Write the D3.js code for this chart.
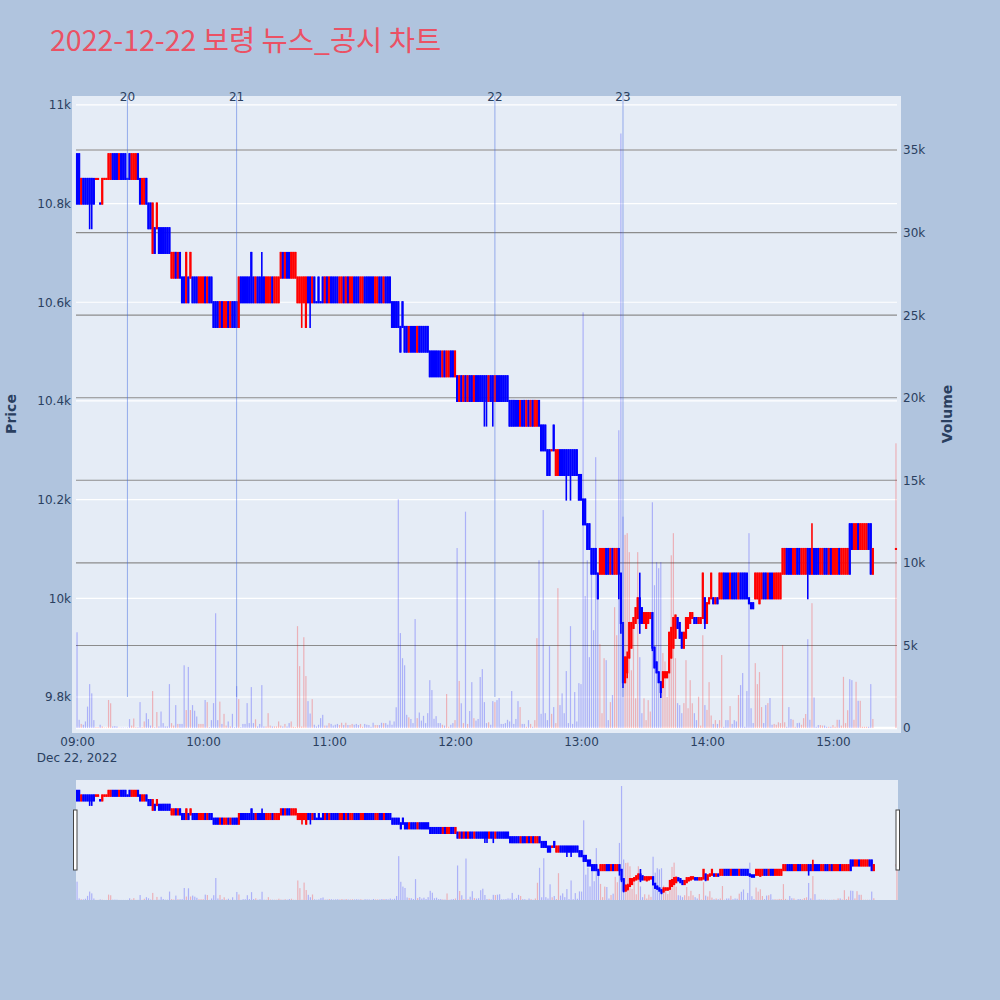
<!DOCTYPE html>
<html><head><meta charset="utf-8">
<script src="https://cdn.jsdelivr.net/npm/d3@7"></script>
<style>body{margin:0;background:#B0C4DE;} svg{display:block}</style>
</head><body><svg id="c" width="1000" height="1000"></svg>
<script>
const times = [
"09:00","09:01","09:02","09:03","09:04","09:05","09:06","09:07","09:08","09:09",
"09:10","09:11","09:12","09:13","09:14","09:15","09:16","09:17","09:18","09:19",
"09:20","09:21","09:22","09:23","09:24","09:25","09:26","09:27","09:28","09:29",
"09:30","09:31","09:32","09:33","09:34","09:35","09:36","09:37","09:38","09:39",
"09:40","09:41","09:42","09:43","09:44","09:45","09:46","09:47","09:48","09:49",
"09:50","09:51","09:52","09:53","09:54","09:55","09:56","09:57","09:58","09:59",
"10:00","10:01","10:02","10:03","10:04","10:05","10:06","10:07","10:08","10:09",
"10:10","10:11","10:12","10:13","10:14","10:15","10:16","10:17","10:18","10:19",
"10:20","10:21","10:22","10:23","10:24","10:25","10:26","10:27","10:28","10:29",
"10:30","10:31","10:32","10:33","10:34","10:35","10:36","10:37","10:38","10:39",
"10:40","10:41","10:42","10:43","10:44","10:45","10:46","10:47","10:48","10:49",
"10:50","10:51","10:52","10:53","10:54","10:55","10:56","10:57","10:58","10:59",
"11:00","11:01","11:02","11:03","11:04","11:05","11:06","11:07","11:08","11:09",
"11:10","11:11","11:12","11:13","11:14","11:15","11:16","11:17","11:18","11:19",
"11:20","11:21","11:22","11:23","11:24","11:25","11:26","11:27","11:28","11:29",
"11:30","11:31","11:32","11:33","11:34","11:35","11:36","11:37","11:38","11:39",
"11:40","11:41","11:42","11:43","11:44","11:45","11:46","11:47","11:48","11:49",
"11:50","11:51","11:52","11:53","11:54","11:55","11:56","11:57","11:58","11:59",
"12:00","12:01","12:02","12:03","12:04","12:05","12:06","12:07","12:08","12:09",
"12:10","12:11","12:12","12:13","12:14","12:15","12:16","12:17","12:18","12:19",
"12:20","12:21","12:22","12:23","12:24","12:25","12:26","12:27","12:28","12:29",
"12:30","12:31","12:32","12:33","12:34","12:35","12:36","12:37","12:38","12:39",
"12:40","12:41","12:42","12:43","12:44","12:45","12:46","12:47","12:48","12:49",
"12:50","12:51","12:52","12:53","12:54","12:55","12:56","12:57","12:58","12:59",
"13:00","13:01","13:02","13:03","13:04","13:05","13:06","13:07","13:08","13:09",
"13:10","13:11","13:12","13:13","13:14","13:15","13:16","13:17","13:18","13:19",
"13:20","13:21","13:22","13:23","13:24","13:25","13:26","13:27","13:28","13:29",
"13:30","13:31","13:32","13:33","13:34","13:35","13:36","13:37","13:38","13:39",
"13:40","13:41","13:42","13:43","13:44","13:45","13:46","13:47","13:48","13:49",
"13:50","13:51","13:52","13:53","13:54","13:55","13:56","13:57","13:58","13:59",
"14:00","14:01","14:02","14:03","14:04","14:05","14:06","14:07","14:08","14:09",
"14:10","14:11","14:12","14:13","14:14","14:15","14:16","14:17","14:18","14:19",
"14:20","14:21","14:22","14:23","14:24","14:25","14:26","14:27","14:28","14:29",
"14:30","14:31","14:32","14:33","14:34","14:35","14:36","14:37","14:38","14:39",
"14:40","14:41","14:42","14:43","14:44","14:45","14:46","14:47","14:48","14:49",
"14:50","14:51","14:52","14:53","14:54","14:55","14:56","14:57","14:58","14:59",
"15:00","15:01","15:02","15:03","15:04","15:05","15:06","15:07","15:08","15:09",
"15:10","15:11","15:12","15:13","15:14","15:15","15:16","15:17","15:18","15:19",
"15:30"];

const open = [
10900,10900,10800,10850,10850,10850,10850,10850,10850,10850,
10850,10800,10800,10850,10850,10850,10850,10900,10900,10900,
10850,10900,10900,10900,10850,10900,10850,10850,10850,10900,
10850,10800,10800,10850,10800,10800,10700,10750,10750,10750,
10750,10750,10750,10750,10750,10650,10650,10700,10650,10700,
10650,10650,10600,10650,10650,10650,10650,10650,10600,10600,
10600,10650,10600,10650,10650,10600,10600,10600,10550,10600,
10550,10550,10600,10550,10600,10600,10600,10550,10650,10650,
10650,10650,10650,10700,10650,10600,10650,10650,10650,10650,
10600,10600,10600,10650,10600,10600,10600,10650,10700,10650,
10700,10700,10650,10650,10650,10600,10600,10600,10600,10550,
10650,10650,10600,10650,10600,10650,10600,10650,10600,10650,
10600,10650,10650,10650,10650,10600,10600,10650,10600,10650,
10600,10600,10650,10650,10650,10600,10600,10650,10650,10650,
10650,10650,10600,10600,10650,10650,10600,10650,10650,10650,
10600,10600,10600,10600,10550,10600,10550,10550,10500,10550,
10550,10550,10500,10550,10550,10550,10550,10550,10500,10500,
10500,10500,10500,10500,10450,10500,10450,10450,10500,10500,
10450,10450,10400,10450,10400,10450,10400,10450,10450,10400,
10450,10450,10450,10450,10450,10450,10400,10450,10450,10400,
10450,10450,10450,10450,10450,10450,10400,10400,10400,10400,
10400,10350,10400,10400,10350,10400,10350,10400,10350,10350,
10400,10350,10350,10350,10300,10300,10300,10350,10250,10250,
10300,10300,10300,10300,10300,10300,10300,10300,10300,10250,
10250,10200,10200,10150,10150,10100,10100,10100,10050,10050,
10050,10050,10100,10100,10050,10100,10050,10050,10100,10050,
9950,9830,9850,9880,9900,9940,9950,9960,10000,9980,
9950,9940,9950,9960,9970,9900,9870,9850,9830,9820,
9840,9840,9850,9880,9900,9920,9960,9950,9930,9900,
9920,9940,9950,9960,9960,9960,9950,9950,9960,10000,
9950,9990,10000,10000,9990,10000,10000,10000,10050,10050,
10050,10000,10050,10050,10050,10000,10050,10050,10050,10050,
10000,9990,9990,10000,10000,9990,10000,10050,10050,10000,
10050,10050,10000,10000,10000,10000,10050,10050,10100,10100,
10100,10050,10050,10100,10100,10050,10050,10050,10100,10100,
10050,10100,10100,10100,10050,10050,10100,10100,10050,10100,
10050,10050,10050,10100,10050,10050,10050,10050,10150,10150,
10100,10100,10150,10100,10100,10100,10100,10150,10150,10050,
10100];

const high = [
10900,10900,10850,10850,10850,10850,10850,10850,10850,10850,
10850,10800,10850,10850,10850,10900,10900,10900,10900,10900,
10900,10900,10900,10900,10850,10900,10900,10900,10900,10900,
10850,10850,10850,10850,10800,10800,10800,10750,10800,10750,
10750,10750,10750,10750,10750,10700,10700,10700,10700,10700,
10650,10650,10700,10650,10700,10650,10650,10650,10650,10650,
10650,10650,10650,10650,10650,10600,10600,10600,10600,10600,
10600,10600,10600,10600,10600,10600,10600,10650,10650,10650,
10650,10650,10650,10700,10650,10650,10650,10650,10700,10650,
10650,10650,10650,10650,10650,10650,10650,10700,10700,10700,
10700,10700,10700,10700,10700,10650,10650,10650,10650,10650,
10650,10650,10650,10650,10600,10650,10600,10650,10650,10650,
10650,10650,10650,10650,10650,10650,10650,10650,10650,10650,
10650,10650,10650,10650,10650,10650,10650,10650,10650,10650,
10650,10650,10650,10650,10650,10650,10650,10650,10650,10650,
10600,10600,10600,10600,10550,10600,10550,10550,10550,10550,
10550,10550,10550,10550,10550,10550,10550,10550,10500,10500,
10500,10500,10500,10500,10500,10500,10500,10500,10500,10500,
10500,10450,10450,10450,10450,10450,10450,10450,10450,10450,
10450,10450,10450,10450,10450,10450,10450,10450,10450,10450,
10450,10450,10450,10450,10450,10450,10400,10400,10400,10400,
10400,10400,10400,10400,10400,10400,10400,10400,10400,10400,
10400,10350,10350,10350,10300,10300,10300,10350,10300,10300,
10300,10300,10300,10300,10300,10300,10300,10300,10300,10250,
10250,10200,10200,10150,10150,10100,10100,10100,10050,10100,
10100,10100,10100,10100,10100,10100,10100,10100,10100,10050,
9950,9880,9890,9950,9950,9960,9980,10000,10050,9980,
9970,9970,9970,9970,9970,9900,9870,9850,9830,9850,
9850,9850,9930,9940,9960,9965,9960,9950,9930,9930,
9960,9960,9970,9970,9960,9960,9960,9960,10050,10000,
9990,10000,10050,10000,10000,10000,10050,10050,10050,10050,
10050,10050,10050,10050,10050,10050,10050,10050,10050,10050,
10000,9990,9990,10050,10050,10050,10050,10050,10050,10050,
10050,10050,10050,10050,10050,10050,10100,10100,10100,10100,
10100,10100,10100,10100,10100,10100,10100,10100,10100,10100,
10150,10100,10100,10100,10100,10100,10100,10100,10100,10100,
10100,10100,10100,10100,10100,10100,10100,10100,10150,10150,
10150,10150,10150,10150,10150,10150,10150,10150,10150,10100,
10100];

const low = [
10800,10800,10800,10800,10800,10800,10750,10750,10800,10850,
10850,10800,10800,10850,10850,10850,10850,10850,10850,10850,
10850,10850,10850,10850,10850,10850,10850,10850,10850,10850,
10800,10800,10800,10800,10750,10750,10700,10700,10750,10700,
10700,10700,10700,10700,10700,10650,10650,10650,10650,10650,
10600,10600,10600,10600,10650,10600,10600,10600,10600,10600,
10600,10600,10600,10600,10600,10550,10550,10550,10550,10550,
10550,10550,10550,10550,10550,10550,10550,10550,10600,10600,
10600,10600,10600,10600,10600,10600,10600,10600,10600,10600,
10600,10600,10600,10600,10600,10600,10600,10650,10650,10650,
10650,10650,10650,10650,10650,10600,10600,10550,10600,10550,
10600,10550,10600,10600,10600,10600,10600,10600,10600,10600,
10600,10600,10600,10600,10600,10600,10600,10600,10600,10600,
10600,10600,10600,10600,10600,10600,10600,10600,10600,10600,
10600,10600,10600,10600,10600,10600,10600,10600,10600,10600,
10550,10550,10550,10550,10500,10550,10500,10500,10500,10500,
10500,10500,10500,10500,10500,10500,10500,10500,10450,10450,
10450,10450,10450,10450,10450,10450,10450,10450,10450,10450,
10450,10400,10400,10400,10400,10400,10400,10400,10400,10400,
10400,10400,10400,10400,10350,10350,10400,10400,10350,10400,
10400,10400,10400,10400,10400,10400,10350,10350,10350,10350,
10350,10350,10350,10350,10350,10350,10350,10350,10350,10350,
10350,10300,10300,10300,10250,10250,10300,10300,10250,10250,
10250,10250,10250,10200,10250,10200,10250,10250,10250,10200,
10200,10150,10150,10100,10100,10050,10050,10050,10000,10050,
10050,10050,10050,10050,10050,10050,10050,10050,10000,9930,
9820,9830,9840,9880,9900,9940,9950,9960,9930,9950,
9950,9940,9950,9960,9895,9860,9850,9830,9800,9820,
9840,9840,9850,9880,9900,9920,9940,9920,9900,9900,
9920,9940,9950,9960,9950,9950,9950,9950,9960,9940,
9950,9990,10000,9990,9990,9990,10000,10000,10000,10000,
10000,10000,10000,10000,10000,10000,10000,10000,10000,10000,
9990,9980,9980,10000,10000,9990,10000,10000,10000,10000,
10000,10000,10000,10000,10000,10000,10050,10050,10050,10050,
10050,10050,10050,10050,10050,10050,10050,10050,10000,10050,
10050,10050,10050,10050,10050,10050,10050,10050,10050,10050,
10050,10050,10050,10050,10050,10050,10050,10050,10050,10100,
10100,10100,10100,10100,10100,10100,10100,10100,10050,10050,
10100];

const close = [
10800,10800,10850,10800,10800,10800,10800,10800,10800,10850,
10850,10800,10850,10850,10850,10900,10900,10850,10850,10850,
10900,10850,10850,10850,10850,10850,10900,10900,10900,10850,
10800,10850,10850,10800,10750,10750,10800,10700,10800,10700,
10700,10700,10700,10700,10700,10700,10700,10650,10700,10650,
10600,10600,10700,10600,10700,10600,10600,10600,10650,10650,
10650,10600,10650,10600,10600,10550,10550,10550,10600,10550,
10600,10600,10550,10600,10550,10550,10550,10650,10600,10600,
10600,10600,10600,10600,10600,10650,10600,10600,10600,10600,
10650,10650,10650,10600,10650,10650,10650,10700,10650,10700,
10650,10650,10700,10700,10700,10650,10650,10650,10650,10650,
10600,10600,10650,10600,10600,10600,10600,10600,10650,10600,
10650,10600,10600,10600,10600,10650,10650,10600,10650,10600,
10650,10650,10600,10600,10600,10650,10650,10600,10600,10600,
10600,10600,10650,10650,10600,10600,10650,10600,10600,10600,
10550,10550,10550,10550,10500,10550,10500,10500,10550,10500,
10500,10500,10550,10500,10500,10500,10500,10500,10450,10450,
10450,10450,10450,10450,10500,10450,10500,10500,10450,10450,
10500,10400,10450,10400,10450,10400,10450,10400,10400,10450,
10400,10400,10400,10400,10400,10400,10450,10400,10400,10450,
10400,10400,10400,10400,10400,10400,10350,10350,10350,10350,
10350,10400,10350,10350,10400,10350,10400,10350,10400,10400,
10350,10300,10300,10300,10250,10250,10300,10300,10300,10300,
10250,10250,10250,10250,10250,10250,10250,10250,10250,10200,
10200,10150,10150,10100,10100,10050,10050,10050,10000,10100,
10100,10100,10050,10050,10100,10050,10100,10100,10050,9950,
9830,9880,9880,9950,9950,9960,9980,10000,9950,9950,
9970,9970,9970,9970,9900,9860,9850,9830,9810,9850,
9850,9850,9930,9940,9960,9965,9940,9920,9900,9930,
9960,9960,9970,9970,9950,9950,9960,9960,10050,9950,
9990,10000,10050,9990,10000,9990,10050,10050,10000,10000,
10000,10050,10000,10000,10000,10050,10000,10000,10000,10000,
9990,9980,9980,10050,10050,10050,10050,10000,10000,10050,
10000,10000,10050,10050,10050,10050,10100,10100,10050,10050,
10050,10100,10100,10050,10050,10100,10100,10100,10050,10050,
10100,10050,10050,10050,10100,10100,10050,10050,10100,10050,
10100,10100,10100,10050,10100,10100,10100,10100,10050,10100,
10150,10150,10100,10150,10150,10150,10150,10100,10050,10100,
10100];

const volume = [
5800,500,250,200,400,1300,2660,2100,480,50,
50,200,100,30,30,1700,1500,100,120,100,
30,30,30,20,30,540,150,580,50,50,
1570,50,400,900,540,150,2240,50,970,100,
1000,300,100,100,2660,300,150,1390,250,250,
250,3800,1090,3700,1090,1390,1050,700,250,250,
250,1700,1570,50,480,1510,6950,480,1600,250,
860,150,400,100,860,50,2540,1750,50,250,
250,1510,300,2480,300,530,100,250,2600,100,
100,900,150,100,100,100,400,150,100,250,
100,300,400,80,50,6170,3750,100,5500,3150,
1630,880,1750,200,100,200,600,800,150,150,
300,250,150,200,250,180,320,180,320,180,
180,250,200,250,180,250,80,250,200,180,
80,320,180,180,180,320,300,300,200,450,
200,400,1260,13850,5750,4230,3800,800,650,550,
300,6600,600,940,450,740,300,900,2900,2300,
560,720,300,300,200,150,2060,80,200,300,
480,10900,2850,1500,300,13100,250,1030,2780,600,
450,550,3090,3570,1570,300,350,200,1630,1570,
1690,1820,250,250,300,500,400,2240,250,550,
1630,1270,250,250,80,480,250,80,480,5440,
10160,860,13200,900,480,4960,860,1270,300,8470,
1390,2100,900,3450,300,6170,250,2180,400,2720,
2660,25170,7990,10160,4290,9440,5930,16400,7950,5080,
900,4230,4110,480,1570,2000,7320,5620,18030,36000,
12800,11700,11800,10650,3500,6350,1800,10650,4290,900,
1800,480,1690,1000,13670,8650,10040,9680,10040,4540,
4030,1880,5360,10460,11800,4230,1510,1390,900,1510,
4110,1200,2900,1500,900,480,1900,150,5620,1390,
1100,2780,760,250,480,250,480,4420,80,480,
480,1330,250,480,400,2000,2600,3330,80,2240,
11800,1200,300,3930,2660,3390,1270,300,1390,1510,
1820,200,250,200,350,300,5020,350,80,1270,
550,500,80,300,320,200,600,850,5380,500,
7560,1850,80,180,180,150,150,80,80,80,
180,80,500,500,150,3100,300,1080,2960,2900,
500,2800,1650,1650,80,80,80,80,2660,550,
17240];

const priceTicks = [9800, 10000, 10200, 10400, 10600, 10800, 11000];
const priceTickLabels = ["9.8k", "10k", "10.2k", "10.4k", "10.6k", "10.8k", "11k"];
const volumeTicks = [0, 5000, 10000, 15000, 20000, 25000, 30000, 35000];
const volumeTickLabels = ["0", "5k", "10k", "15k", "20k", "25k", "30k", "35k"];
const timeTicks = ["09:00", "10:00", "11:00", "12:00", "13:00", "14:00", "15:00"];
const newsLabels = ["20", "21", "22", "23"];
const newsTimes = ["09:24", "10:16", "12:19", "13:20"];

const toMin = s => { const [h, m] = s.split(":").map(Number); return (h - 9) * 60 + m; };
const INC = "#ff0000", DEC = "#0000ff";
const data = [];
let prevClose = null, prevDir = DEC;
for (let i = 0; i < times.length; i++) {
  const o = open[i], c = close[i];
  let dir;
  if (c > o) dir = INC; else if (c < o) dir = DEC;
  else dir = prevClose === null ? DEC : (c > prevClose ? INC : (c < prevClose ? DEC : prevDir));
  data.push({t: toMin(times[i]), o, h: high[i], l: low[i], c, v: volume[i], dir});
  prevClose = c; prevDir = dir;
}

const svg = d3.select("#c");
const font = "'DejaVu Sans', Verdana, sans-serif";
const titleFont = "'Noto Sans CJK KR', 'Noto Sans', sans-serif";
const txt = "#2a3f5f";
svg.append("rect").attr("width", 1000).attr("height", 1000).attr("fill", "#B0C4DE");

// main plot area
const L = 72, R = 901, T = 96, B = 733;
const x = d3.scaleLinear().domain([-2.4, 392.4]).range([L, R]);
const y = d3.scaleLinear().domain([9727, 11018]).range([B, T]);
const yv = d3.scaleLinear().domain([-300, 38270]).range([B, T]);

svg.append("rect").attr("x", L).attr("y", T).attr("width", R - L).attr("height", B - T).attr("fill", "#E5ECF6");
const defs = svg.append("defs");
defs.append("clipPath").attr("id", "clipMain").append("rect").attr("x", L).attr("y", T).attr("width", R - L).attr("height", B - T);

const grid = svg.append("g");
grid.selectAll("line.pg").data(priceTicks).join("line")
  .attr("x1", 76).attr("x2", 897).attr("y1", d => y(d)).attr("y2", d => y(d))
  .attr("stroke", "#ffffff").attr("stroke-width", 1.2);
grid.selectAll("line.vg").data(volumeTicks).join("line")
  .attr("x1", 76).attr("x2", 897).attr("y1", d => yv(d)).attr("y2", d => yv(d))
  .attr("stroke", d => d === 0 ? "#ffffff" : (d === 35000 ? "#a9a9a9" : "#8c8c8c"))
  .attr("stroke-width", d => d === 0 ? 2.5 : (d === 35000 ? 1.6 : 1.1));

const plot = svg.append("g").attr("clip-path", "url(#clipMain)");
// volume bars
plot.selectAll("rect.vol").data(data).join("rect")
  .attr("x", d => x(d.t) - 0.6).attr("width", 1.2)
  .attr("y", d => yv(d.v)).attr("height", d => yv(0) - yv(d.v))
  .attr("fill", d => d.dir).attr("fill-opacity", 0.25);
// candles
const cg = plot.append("g");
cg.selectAll("line.wick").data(data).join("line")
  .attr("x1", d => x(d.t)).attr("x2", d => x(d.t))
  .attr("y1", d => y(d.h) - 1).attr("y2", d => y(d.l) + 1)
  .attr("stroke", d => d.dir).attr("stroke-width", 1.6);
cg.selectAll("rect.body").data(data).join("rect")
  .attr("x", d => x(d.t) - 1.1).attr("width", 2.2)
  .attr("y", d => y(Math.max(d.o, d.c)) - 1)
  .attr("height", d => Math.abs(y(d.o) - y(d.c)) + 2)
  .attr("fill", d => d.dir);

// news lines
const news = newsLabels.map((lab, i) => ({lab, t: toMin(newsTimes[i])}));
svg.selectAll("line.news").data(news).join("line")
  .attr("x1", d => x(d.t)).attr("x2", d => x(d.t))
  .attr("y1", T).attr("y2", y(9800))
  .attr("stroke", "rgba(65,105,225,0.5)").attr("stroke-width", 1);
svg.selectAll("text.news").data(news).join("text")
  .attr("x", d => x(d.t)).attr("y", 101)
  .attr("text-anchor", "middle").attr("font-family", font).attr("font-size", 12)
  .attr("fill", txt).text(d => d.lab);

// axes
const axL = svg.append("g").attr("transform", `translate(${L},0)`)
  .call(d3.axisLeft(y).tickValues(priceTicks).tickFormat((d, i) => priceTickLabels[i]).tickSize(0).tickPadding(1));
const axR = svg.append("g").attr("transform", `translate(${R},0)`)
  .call(d3.axisRight(yv).tickValues(volumeTicks).tickFormat((d, i) => volumeTickLabels[i]).tickSize(0).tickPadding(2));
const axB = svg.append("g").attr("transform", `translate(0,${B})`)
  .call(d3.axisBottom(x).tickValues(timeTicks.map(toMin)).tickFormat((d, i) => timeTicks[i]).tickSize(0).tickPadding(4));
[axL, axR, axB].forEach(a => {
  a.select(".domain").remove();
  a.selectAll("text").attr("font-family", font).attr("font-size", 12).attr("fill", txt);
});
svg.append("text").attr("x", x(0)).attr("y", 762).attr("text-anchor", "middle")
  .attr("font-family", font).attr("font-size", 12).attr("fill", txt).text("Dec 22, 2022");

// axis titles
svg.append("text").attr("transform", "translate(16,414) rotate(-90)").attr("text-anchor", "middle")
  .attr("font-family", font).attr("font-size", 14).attr("font-weight", "bold").attr("fill", txt).text("Price");
svg.append("text").attr("transform", "translate(952,414) rotate(-90)").attr("text-anchor", "middle")
  .attr("font-family", font).attr("font-size", 14).attr("font-weight", "bold").attr("fill", txt).text("Volume");

// title
svg.append("text").attr("x", 50).attr("y", 51)
  .attr("font-family", titleFont).attr("font-size", 28.5).attr("fill", "#eb5164")
  .text("2022-12-22 보령 뉴스_공시 차트");

// range slider
const SL = 76, SR = 898, ST = 780, SB = 900;
const sx = d3.scaleLinear().domain([-0.5, 390.5]).range([SL, SR]);
const sy = d3.scaleLinear().domain([9727, 11018]).range([SB, ST]);
const syv = d3.scaleLinear().domain([0, 37900]).range([SB, ST]);
svg.append("rect").attr("x", SL).attr("y", ST).attr("width", SR - SL).attr("height", SB - ST).attr("fill", "#E5ECF6");
defs.append("clipPath").attr("id", "clipSlider").append("rect").attr("x", SL).attr("y", ST).attr("width", SR - SL).attr("height", SB - ST);
const sg = svg.append("g").attr("clip-path", "url(#clipSlider)");
sg.selectAll("rect.svol").data(data).join("rect")
  .attr("x", d => sx(d.t) - 0.6).attr("width", 1.2)
  .attr("y", d => syv(d.v)).attr("height", d => syv(0) - syv(d.v))
  .attr("fill", d => d.dir).attr("fill-opacity", 0.25);
sg.selectAll("line.swick").data(data).join("line")
  .attr("x1", d => sx(d.t)).attr("x2", d => sx(d.t))
  .attr("y1", d => sy(d.h) - 1).attr("y2", d => sy(d.l) + 1)
  .attr("stroke", d => d.dir).attr("stroke-width", 1.6);
sg.selectAll("rect.sbody").data(data).join("rect")
  .attr("x", d => sx(d.t) - 1.1).attr("width", 2.2)
  .attr("y", d => sy(Math.max(d.o, d.c)) - 1.2)
  .attr("height", d => Math.abs(sy(d.o) - sy(d.c)) + 2.4)
  .attr("fill", d => d.dir);
// handles
[[73.5, 810], [896, 810]].forEach(([hx, hy]) => {
  svg.append("rect").attr("x", hx).attr("y", hy).attr("width", 3.5).attr("height", 60)
    .attr("fill", "#ffffff").attr("stroke", "#444444").attr("stroke-width", 1);
});
</script>
</body></html>
